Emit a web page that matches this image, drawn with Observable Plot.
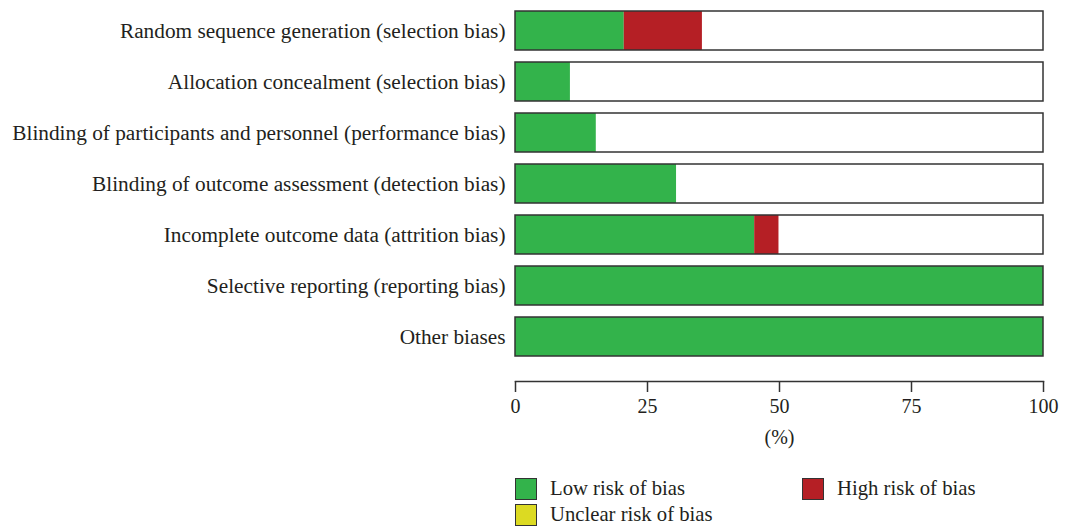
<!DOCTYPE html>
<html>
<head>
<meta charset="utf-8">
<script src="https://cdn.jsdelivr.net/npm/d3@7"></script>
<script src="https://cdn.jsdelivr.net/npm/@observablehq/plot@0.6"></script>
<style>
  html, body { margin: 0; padding: 0; background: #fff; }
  #wrap { position: relative; width: 1065px; height: 527px; font-family: "Liberation Serif", "DejaVu Serif", serif; color: #231f20; }
  #chart svg { display: block; }
  .lg { position: absolute; display: flex; align-items: center; font-size: 20.7px; white-space: nowrap; }
  .sw { width: 20px; height: 20px; border: 1.5px solid #333; margin-right: 13px; box-sizing: content-box; }
</style>
</head>
<body>
<div id="wrap">
  <div id="chart"></div>
  <div id="legend"></div>
</div>
<script>
const categories = [
  "Random sequence generation (selection bias)",
  "Allocation concealment (selection bias)",
  "Blinding of participants and personnel (performance bias)",
  "Blinding of outcome assessment (detection bias)",
  "Incomplete outcome data (attrition bias)",
  "Selective reporting (reporting bias)",
  "Other biases"
];
const lowRisk = [20.6, 10.4, 15.3, 30.5, 45.3, 100, 100];
const highRisk = [14.8, 0, 0, 0, 4.6, 0, 0];
const unclearRisk = [0, 0, 0, 0, 0, 0, 0];
const riskLabels = ["Low risk of bias", "High risk of bias", "Unclear risk of bias"];
const riskColors = ["#33b34b", "#b51f25", "#dcda22"];
const xTicks = [0, 25, 50, 75, 100];

const rows = [];
categories.forEach((c, i) => {
  rows.push({category: c, risk: riskLabels[0], value: lowRisk[i]});
  rows.push({category: c, risk: riskLabels[1], value: highRisk[i]});
  rows.push({category: c, risk: riskLabels[2], value: unclearRisk[i]});
});
const frames = categories.map(c => ({category: c}));

const chart = Plot.plot({
  width: 1065,
  height: 460,
  marginLeft: 515,
  marginRight: 22,
  marginTop: 4,
  marginBottom: 79,
  style: {fontFamily: "Liberation Serif, DejaVu Serif, serif", fontSize: "19.5px", color: "#231f20", background: "#fff"},
  x: {domain: [0, 100]},
  y: {domain: categories, range: [4.35, 363.4], paddingInner: 0.24, paddingOuter: 0.12},
  color: {domain: riskLabels, range: riskColors},
  marks: [
    Plot.barX(frames, {y: "category", x1: 0, x2: 100, fill: "#fff"}),
    Plot.barX(rows, {y: "category", x: "value", fill: "risk"}),
    Plot.barX(frames, {y: "category", x1: 0, x2: 100, fill: "none", stroke: "#333", strokeWidth: 1.5}),
    Plot.frame({anchor: "bottom", stroke: "#333", strokeWidth: 1.5}),
    Plot.axisX({ticks: xTicks, tickSize: 11, tickPadding: 6, stroke: "#333", strokeWidth: 1.5, fontSize: 20, label: "(%)", labelAnchor: "center", labelArrow: "none", labelOffset: 62}),
    Plot.axisY({tickSize: 0, tickPadding: 10, fontSize: 21.3, label: null})
  ]
});
document.getElementById("chart").appendChild(chart);

const legendPos = [
  {left: 515, top: 477},
  {left: 802, top: 477},
  {left: 515, top: 503}
];
const lg = document.getElementById("legend");
riskLabels.forEach((r, i) => {
  const d = document.createElement("div");
  d.className = "lg";
  d.style.left = legendPos[i].left + "px";
  d.style.top = legendPos[i].top + "px";
  const sw = document.createElement("span");
  sw.className = "sw";
  sw.style.background = riskColors[i];
  const t = document.createElement("span");
  t.textContent = r;
  d.appendChild(sw);
  d.appendChild(t);
  lg.appendChild(d);
});
</script>
</body>
</html>
